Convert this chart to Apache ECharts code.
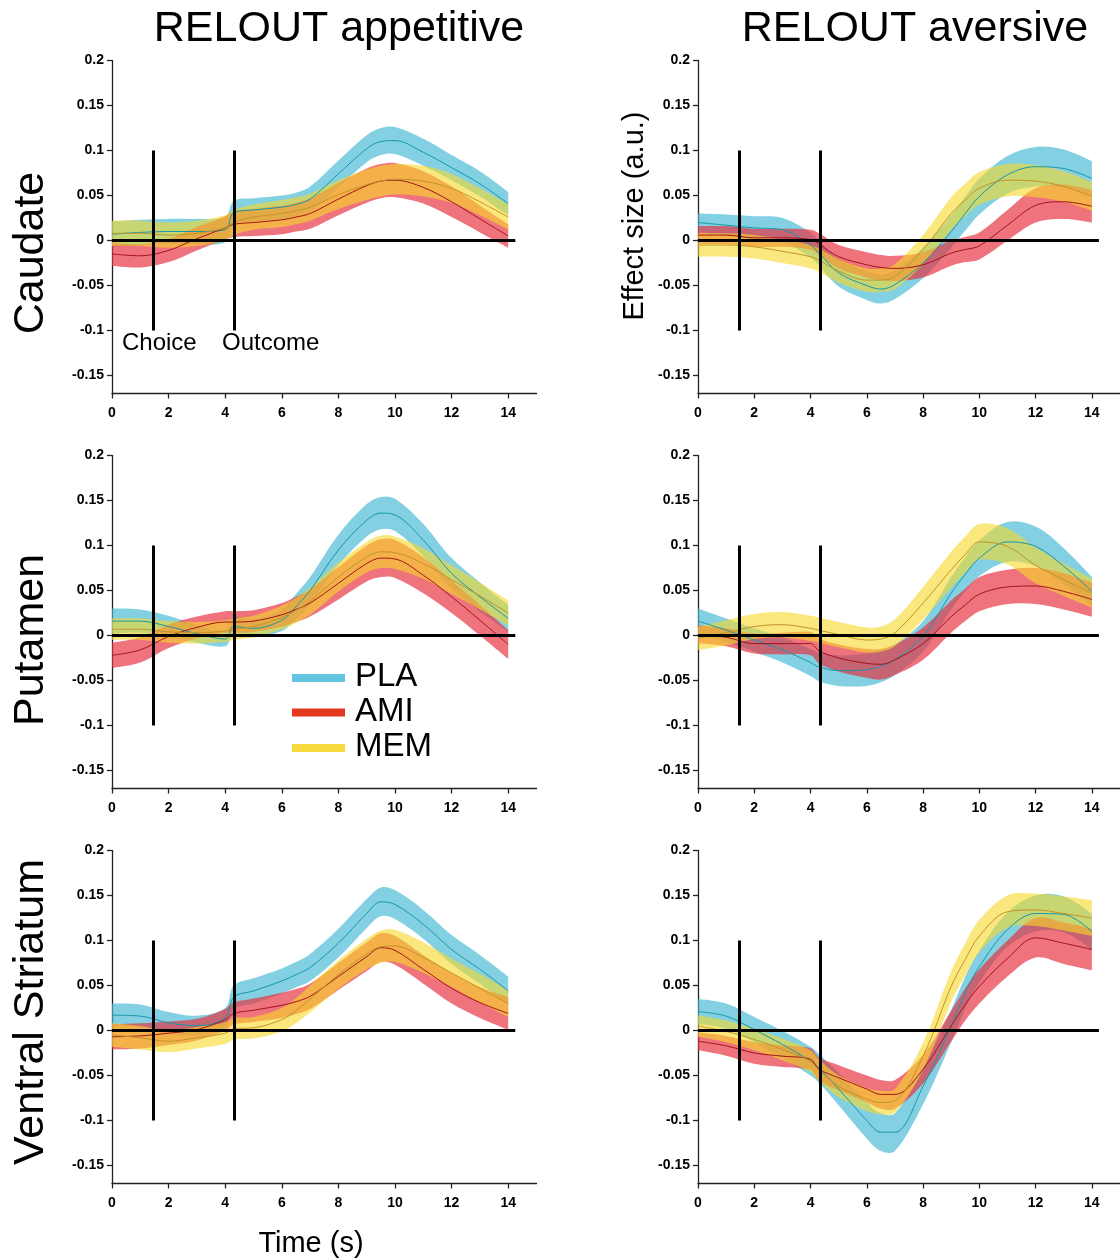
<!DOCTYPE html>
<html><head><meta charset="utf-8">
<script src="https://cdn.jsdelivr.net/npm/echarts@6/dist/echarts.min.js"></script>
<style>html,body{margin:0;padding:0;background:#fff}#c{width:1120px;height:1260px}</style>
</head><body><div id="c"></div><script>
// ---------------- data ----------------
const T = [0,1,2,3,4,4.3,5,6,6.5,7,8,9,9.5,10,11,12,13,14];
const xTicks = [0,2,4,6,8,10,12,14];
const yTicks = [-0.15,-0.1,-0.05,0,0.05,0.1,0.15,0.2];
const groupNames = ['PLA','AMI','MEM'];
const columnTitles = ['RELOUT appetitive','RELOUT aversive'];
const rowTitles = ['Caudate','Putamen','Ventral Striatum'];
const eventTimes = [1.45, 4.33];
const eventNames = ['Choice','Outcome'];
const eventRange = [-0.1, 0.1];
const zeroLineEnd = 14.25;

// Caudate appetitive
const caudApp_PLA_mean = [0.007,0.009,0.010,0.010,0.012,0.031,0.034,0.037,0.040,0.046,0.074,0.102,0.110,0.111,0.098,0.081,0.063,0.041];
const caudApp_PLA_se   = [0.014,0.014,0.014,0.014,0.014,0.013,0.013,0.013,0.013,0.014,0.015,0.015,0.015,0.015,0.015,0.014,0.014,0.013];
const caudApp_AMI_mean = [-0.015,-0.017,-0.011,0.002,0.014,0.018,0.020,0.023,0.026,0.030,0.046,0.061,0.066,0.067,0.059,0.043,0.024,0.005];
const caudApp_AMI_se   = [0.013,0.013,0.013,0.013,0.013,0.014,0.015,0.016,0.016,0.017,0.018,0.019,0.019,0.019,0.018,0.017,0.015,0.013];
const caudApp_MEM_mean = [0.008,0.008,0.006,0.008,0.014,0.020,0.026,0.030,0.033,0.037,0.051,0.062,0.066,0.068,0.066,0.058,0.043,0.026];
const caudApp_MEM_se   = [0.014,0.014,0.014,0.014,0.014,0.014,0.014,0.015,0.015,0.015,0.016,0.017,0.017,0.017,0.017,0.016,0.015,0.014];
// Caudate aversive
const caudAv_PLA_mean = [0.020,0.017,0.014,0.012,-0.005,-0.014,-0.036,-0.050,-0.054,-0.049,-0.025,0.010,0.030,0.049,0.073,0.082,0.080,0.069];
const caudAv_PLA_se   = [0.010,0.012,0.013,0.013,0.014,0.014,0.015,0.016,0.016,0.016,0.017,0.018,0.019,0.020,0.021,0.022,0.021,0.019];
const caudAv_AMI_mean = [0.006,0.006,0.003,0.003,0.001,-0.004,-0.018,-0.027,-0.030,-0.031,-0.027,-0.014,-0.010,-0.006,0.017,0.039,0.043,0.038];
const caudAv_AMI_se   = [0.010,0.010,0.010,0.010,0.011,0.012,0.013,0.014,0.014,0.014,0.014,0.014,0.014,0.015,0.017,0.019,0.019,0.018];
const caudAv_MEM_mean = [-0.005,-0.005,-0.007,-0.012,-0.018,-0.022,-0.034,-0.044,-0.044,-0.040,-0.010,0.030,0.045,0.058,0.067,0.066,0.060,0.049];
const caudAv_MEM_se   = [0.013,0.013,0.013,0.013,0.013,0.013,0.013,0.013,0.013,0.014,0.016,0.018,0.018,0.018,0.018,0.018,0.017,0.016];
// Putamen appetitive
const putApp_PLA_mean = [0.016,0.016,0.010,0.002,-0.004,0.010,0.008,0.017,0.032,0.050,0.095,0.128,0.136,0.134,0.106,0.069,0.043,0.019];
const putApp_PLA_se   = [0.014,0.013,0.012,0.010,0.008,0.010,0.010,0.012,0.014,0.015,0.017,0.018,0.018,0.018,0.018,0.017,0.016,0.015];
const putApp_AMI_mean = [-0.022,-0.016,-0.001,0.009,0.015,0.015,0.016,0.023,0.029,0.036,0.058,0.080,0.086,0.085,0.067,0.043,0.017,-0.010];
const putApp_AMI_se   = [0.014,0.014,0.013,0.012,0.012,0.012,0.012,0.013,0.014,0.015,0.018,0.020,0.021,0.021,0.020,0.018,0.017,0.016];
const putApp_MEM_mean = [0.007,0.007,0.004,0.003,0.005,0.007,0.010,0.020,0.028,0.038,0.065,0.087,0.093,0.092,0.080,0.062,0.044,0.025];
const putApp_MEM_se   = [0.012,0.012,0.012,0.012,0.012,0.012,0.012,0.013,0.014,0.015,0.016,0.017,0.018,0.018,0.017,0.016,0.015,0.014];
// Putamen aversive
const putAv_PLA_mean = [0.016,0.006,-0.005,-0.016,-0.030,-0.035,-0.039,-0.038,-0.034,-0.027,-0.001,0.047,0.068,0.086,0.104,0.099,0.077,0.049];
const putAv_PLA_se   = [0.014,0.013,0.013,0.014,0.015,0.016,0.017,0.018,0.018,0.017,0.017,0.018,0.019,0.020,0.022,0.022,0.020,0.016];
const putAv_AMI_mean = [0.001,-0.002,-0.009,-0.009,-0.009,-0.017,-0.025,-0.031,-0.032,-0.027,-0.009,0.021,0.034,0.046,0.054,0.055,0.049,0.040];
const putAv_AMI_se   = [0.010,0.010,0.011,0.012,0.013,0.014,0.015,0.016,0.017,0.017,0.018,0.018,0.018,0.019,0.019,0.020,0.020,0.019];
const putAv_MEM_mean = [-0.003,0.003,0.010,0.012,0.008,0.006,0.001,-0.005,-0.004,0.003,0.036,0.073,0.090,0.104,0.099,0.078,0.062,0.047];
const putAv_MEM_se   = [0.013,0.014,0.014,0.014,0.014,0.014,0.014,0.014,0.014,0.015,0.018,0.020,0.020,0.020,0.020,0.020,0.018,0.016];
// Ventral striatum appetitive
const vsApp_PLA_mean = [0.017,0.016,0.0085,0.0055,0.014,0.037,0.044,0.055,0.062,0.070,0.097,0.130,0.143,0.140,0.118,0.090,0.068,0.044];
const vsApp_PLA_se   = [0.013,0.013,0.012,0.011,0.011,0.013,0.014,0.014,0.014,0.015,0.016,0.016,0.016,0.016,0.016,0.016,0.016,0.016];
const vsApp_AMI_mean = [-0.007,-0.006,-0.003,0.001,0.012,0.019,0.0225,0.028,0.032,0.038,0.060,0.082,0.092,0.089,0.068,0.047,0.031,0.019];
const vsApp_AMI_se   = [0.014,0.014,0.013,0.012,0.012,0.012,0.013,0.014,0.014,0.014,0.015,0.016,0.016,0.016,0.016,0.017,0.017,0.018];
const vsApp_MEM_mean = [-0.005,-0.008,-0.012,-0.008,-0.003,0.002,0.003,0.012,0.022,0.035,0.062,0.085,0.093,0.094,0.081,0.064,0.047,0.030];
const vsApp_MEM_se   = [0.013,0.013,0.012,0.012,0.012,0.012,0.012,0.013,0.014,0.015,0.016,0.017,0.018,0.018,0.017,0.016,0.016,0.015];
// Ventral striatum aversive
const vsAv_PLA_mean = [0.021,0.016,0.001,-0.0155,-0.034,-0.042,-0.065,-0.100,-0.113,-0.113,-0.062,0.005,0.042,0.071,0.112,0.130,0.129,0.110];
const vsAv_PLA_se   = [0.014,0.014,0.014,0.015,0.016,0.016,0.018,0.020,0.021,0.021,0.020,0.018,0.018,0.018,0.019,0.020,0.020,0.020];
const vsAv_AMI_mean = [-0.012,-0.017,-0.025,-0.0285,-0.032,-0.043,-0.0525,-0.065,-0.071,-0.071,-0.043,0.005,0.029,0.049,0.080,0.103,0.097,0.090];
const vsAv_AMI_se   = [0.010,0.011,0.012,0.012,0.012,0.013,0.014,0.015,0.016,0.016,0.016,0.017,0.018,0.019,0.020,0.022,0.023,0.023];
const vsAv_MEM_mean = [0.005,-0.001,-0.010,-0.021,-0.034,-0.044,-0.062,-0.0765,-0.080,-0.078,-0.0285,0.049,0.079,0.105,0.132,0.134,0.130,0.125];
const vsAv_MEM_se   = [0.012,0.012,0.012,0.012,0.012,0.012,0.012,0.013,0.013,0.013,0.015,0.017,0.018,0.018,0.018,0.018,0.019,0.020];

// ---------------- styling ----------------
const bandColors = ['rgba(72,186,214,0.68)','rgba(231,48,62,0.68)','rgba(246,216,40,0.6)'];
const lineColors = ['#1597a8','#a3141a','#c09428'];
const legendColors = ['#62c4de','#e3381f','#f6d93a'];
const FONT = 'Liberation Sans, Arial, Helvetica, sans-serif';

const panels = [
  {means:[caudApp_PLA_mean,caudApp_AMI_mean,caudApp_MEM_mean], ses:[caudApp_PLA_se,caudApp_AMI_se,caudApp_MEM_se]},
  {means:[caudAv_PLA_mean,caudAv_AMI_mean,caudAv_MEM_mean], ses:[caudAv_PLA_se,caudAv_AMI_se,caudAv_MEM_se]},
  {means:[putApp_PLA_mean,putApp_AMI_mean,putApp_MEM_mean], ses:[putApp_PLA_se,putApp_AMI_se,putApp_MEM_se]},
  {means:[putAv_PLA_mean,putAv_AMI_mean,putAv_MEM_mean], ses:[putAv_PLA_se,putAv_AMI_se,putAv_MEM_se]},
  {means:[vsApp_PLA_mean,vsApp_AMI_mean,vsApp_MEM_mean], ses:[vsApp_PLA_se,vsApp_AMI_se,vsApp_MEM_se]},
  {means:[vsAv_PLA_mean,vsAv_AMI_mean,vsAv_MEM_mean], ses:[vsAv_PLA_se,vsAv_AMI_se,vsAv_MEM_se]}
];

const colLeft = [112, 698];
const colWidth = [424.5, 423];
const rowTop = [60.5, 455.5, 850.5];
const gridH = 333;

const SMOOTH = 0.35;
function splinePath(pts) {
  let d = '';
  const n = pts.length;
  function cps(i) {
    const cur = pts[i];
    if (i === 0 || i === n - 1) return [cur, cur];
    const prev = pts[i-1], next = pts[i+1];
    const vx = next[0]-prev[0], vy = next[1]-prev[1];
    const lp = Math.hypot(cur[0]-prev[0], cur[1]-prev[1]);
    const ln = Math.hypot(next[0]-cur[0], next[1]-cur[1]);
    const r = ln / (ln + lp || 1);
    return [[cur[0]-vx*SMOOTH*(1-r), cur[1]-vy*SMOOTH*(1-r)], [cur[0]+vx*SMOOTH*r, cur[1]+vy*SMOOTH*r]];
  }
  for (let i = 0; i < n - 1; i++) {
    const c1 = cps(i)[1], c2 = cps(i+1)[0], p = pts[i+1];
    d += ' C' + c1[0] + ' ' + c1[1] + ' ' + c2[0] + ' ' + c2[1] + ' ' + p[0] + ' ' + p[1];
  }
  return d;
}

const grids = [], xAxes = [], yAxes = [], series = [];
panels.forEach(function(p, idx) {
  const r = Math.floor(idx / 2), c = idx % 2;
  grids.push({left: colLeft[c], top: rowTop[r], width: colWidth[c], height: gridH, containLabel: false});
  xAxes.push({
    type: 'value', gridIndex: idx, min: 0, max: 15,
    axisLine: {onZero: false, lineStyle: {color: '#222', width: 1.3}},
    axisTick: {customValues: xTicks, length: 5, lineStyle: {color: '#222', width: 1.3}},
    axisLabel: {customValues: xTicks, margin: 13, color: '#000', fontSize: 14, fontWeight: 'bold', fontFamily: FONT},
    splitLine: {show: false}
  });
  yAxes.push({
    type: 'value', gridIndex: idx, min: -0.17, max: 0.2,
    axisLine: {show: true, onZero: false, lineStyle: {color: '#222', width: 1.3}},
    axisTick: {show: true, customValues: yTicks, length: 5, lineStyle: {color: '#222', width: 1.3}},
    axisLabel: {customValues: yTicks, margin: 8, color: '#000', fontSize: 14, fontWeight: 'bold', fontFamily: FONT,
      formatter: function(v){ return String(Math.round(v*100)/100); }},
    splitLine: {show: false}
  });
  groupNames.forEach(function(g, gi) {
    const mean = p.means[gi], se = p.ses[gi];
    series.push({
      type: 'custom', name: g, xAxisIndex: idx, yAxisIndex: idx, silent: true, z: 1,
      data: T.map(function(t, i){ return [t, mean[i]-se[i], mean[i]+se[i]]; }),
      encode: {x: 0, y: [1, 2]},
      renderItem: function(params, api) {
        if (params.dataIndex !== 0) return null;
        const up = T.map(function(t, i){ return api.coord([t, mean[i]+se[i]]); });
        const lo = T.map(function(t, i){ return api.coord([t, mean[i]-se[i]]); }).reverse();
        const d = 'M' + up[0][0] + ' ' + up[0][1] + splinePath(up) +
                  ' L' + lo[0][0] + ' ' + lo[0][1] + splinePath(lo) + ' Z';
        return {type: 'path', shape: {pathData: d}, style: {fill: bandColors[gi], stroke: null}};
      }
    });
  });
  groupNames.forEach(function(g, gi) {
    const mean = p.means[gi];
    const s = {
      type: 'line', name: g, xAxisIndex: idx, yAxisIndex: idx, silent: true, z: 2,
      data: T.map(function(t, i){ return [t, mean[i]]; }),
      smooth: SMOOTH, symbol: 'none', showSymbol: false,
      lineStyle: {color: lineColors[gi], width: 1}
    };
    if (gi === 2) {
      s.markLine = {
        silent: true, symbol: ['none','none'], label: {show: false},
        lineStyle: {color: '#000', width: 3, type: 'solid'},
        emphasis: {disabled: true},
        data: [
          [{coord: [0, 0]}, {coord: [zeroLineEnd, 0]}]
        ].concat(eventTimes.map(function(et){
          return [{coord: [et, eventRange[0]]}, {coord: [et, eventRange[1]]}];
        }))
      };
    }
    series.push(s);
  });
});

const graphics = [];
function txt(text, x, y, size, opts) {
  opts = opts || {};
  graphics.push({
    type: 'text', x: x, y: y, rotation: opts.rotation || 0, silent: true,
    style: {text: text, fill: '#000', fontSize: size, fontFamily: FONT,
      align: opts.align || 'center', verticalAlign: 'middle'}
  });
}
txt(columnTitles[0], 339, 29, 43);
txt(columnTitles[1], 915, 29, 43);
txt(rowTitles[0], 31, 253, 43, {rotation: Math.PI/2});
txt(rowTitles[1], 31, 640, 43, {rotation: Math.PI/2});
txt(rowTitles[2], 31, 1012, 43, {rotation: Math.PI/2});
txt('Effect size (a.u.)', 635, 216, 29, {rotation: Math.PI/2});
txt('Time (s)', 311, 1244, 29);
txt(eventNames[0], 122, 343.5, 24, {align: 'left'});
txt(eventNames[1], 222, 343.5, 24, {align: 'left'});
const legendY = [678, 712.5, 748];
groupNames.forEach(function(g, gi) {
  graphics.push({type: 'rect', silent: true, shape: {x: 292, y: legendY[gi]-4, width: 53, height: 8},
    style: {fill: legendColors[gi]}});
  txt(g, 355, legendY[gi] - 1, 33, {align: 'left'});
});

const chart = echarts.init(document.getElementById('c'), null, {renderer: 'canvas'});
chart.setOption({
  animation: false,
  backgroundColor: '#fff',
  grid: grids, xAxis: xAxes, yAxis: yAxes, series: series,
  graphic: graphics
});
</script></body></html>
